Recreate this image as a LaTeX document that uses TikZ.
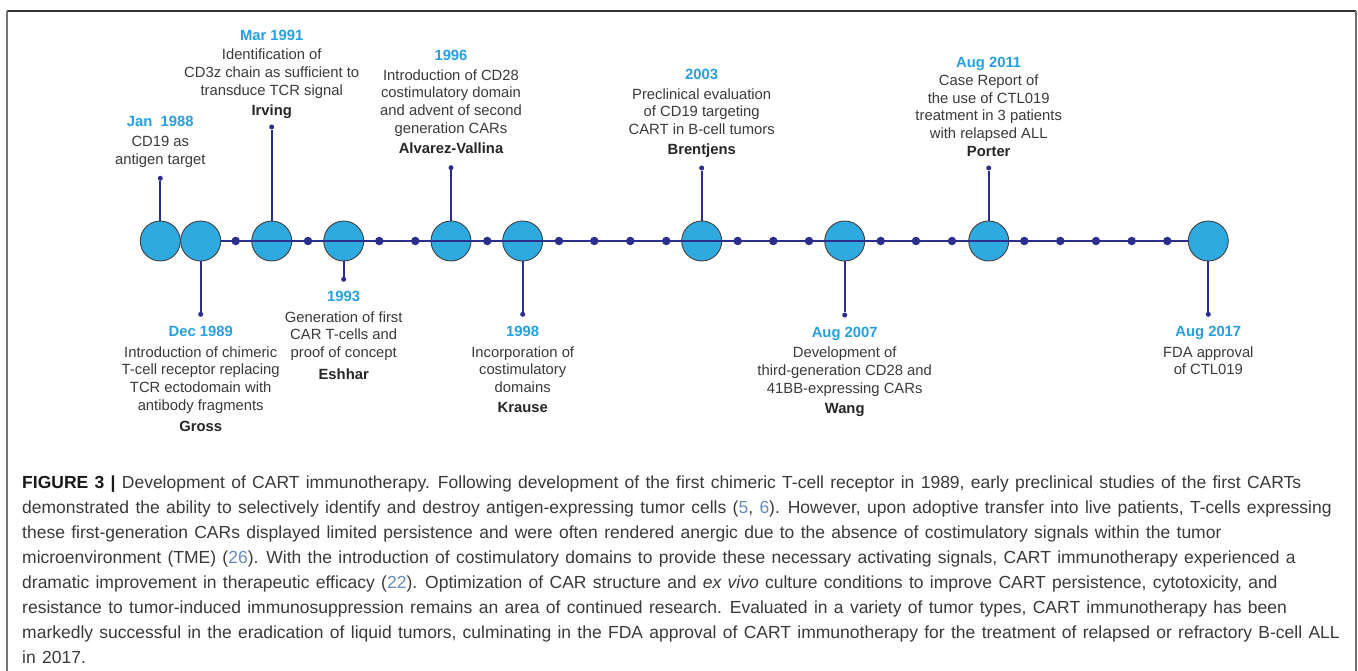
\documentclass[tikz,border=0pt]{standalone}
\usepackage{fontspec}
\setmainfont{Liberation Sans}
\newfontfamily\capfont[WordSpace=1.3]{Liberation Sans}
\usepackage{xcolor}
\usepackage{tikz}
\usetikzlibrary{positioning}

\definecolor{linenavy}{RGB}{44,46,142}
\definecolor{dateblue}{RGB}{38,160,222}
\definecolor{ballblue}{RGB}{47,170,224}
\definecolor{txtgray}{RGB}{58,58,58}
\definecolor{refblue}{RGB}{100,140,190}

\newcommand{\yr}{\bfseries\color{dateblue}}
\newcommand{\who}{\bfseries\color{black!85}}
\newcommand{\rf}[1]{{\color{refblue}#1}}

\begin{document}
\begin{tikzpicture}[x=1pt, y=-1pt,
    ball/.style={circle, draw=black!75, line width=0.9pt, fill=ballblue, minimum size=40pt, inner sep=0pt},
    tick/.style={circle, fill=linenavy, minimum size=8.5pt, inner sep=0pt},
    tip/.style={circle, fill=linenavy, minimum size=5pt, inner sep=0pt},
    stem/.style={linenavy, line width=2pt},
    event/.style={align=center, inner sep=0pt, text=txtgray, font=\fontsize{14.8}{17.7}\selectfont},
    capline/.style={anchor=base west, inner sep=0pt, text=txtgray, font=\capfont\fontsize{17.5}{25}\selectfont}]
    \useasboundingbox (0,0) rectangle (1358,671);
    \fill[white] (0,0) rectangle (1358,671);
    % frame
    \draw[black!80, line width=1.2pt] (7,11) -- (1356,11);
    \draw[black!55, line width=1.5pt] (7,11) -- (7,671);
    \draw[black!55, line width=1.5pt] (1356,11) -- (1356,671);
    % milestones
    \node[ball] (b1) at (160.3,241) {};
    \node[ball] (b2) at (200.7,241) {};
    \node[ball] (b3) at (271.7,241) {};
    \node[ball] (b4) at (343.7,241) {};
    \node[ball] (b5) at (451,241) {};
    \node[ball] (b6) at (522.7,241) {};
    \node[ball] (b7) at (701.7,241) {};
    \node[ball] (b8) at (844.7,241) {};
    \node[ball] (b9) at (988.7,241) {};
    \node[ball] (b10) at (1208.3,241) {};
    \draw[linenavy, line width=2.8pt] (b2) -- (b10);
    % small ticks on the axis
    \node[tick] (k1) at (235.7,241) {};
    \node[tick] (k2) at (308,241) {};
    \node[tick] (k3) at (379.3,241) {};
    \node[tick] (k4) at (415.3,241) {};
    \node[tick] (k5) at (487.3,241) {};
    \node[tick] (k6) at (559,241) {};
    \node[tick] (k7) at (594.3,241) {};
    \node[tick] (k8) at (630.3,241) {};
    \node[tick] (k9) at (666.3,241) {};
    \node[tick] (k10) at (737.7,241) {};
    \node[tick] (k11) at (773.3,241) {};
    \node[tick] (k12) at (809,241) {};
    \node[tick] (k13) at (880.7,241) {};
    \node[tick] (k14) at (916,241) {};
    \node[tick] (k15) at (952,241) {};
    \node[tick] (k16) at (1024.3,241) {};
    \node[tick] (k17) at (1060.3,241) {};
    \node[tick] (k18) at (1096,241) {};
    \node[tick] (k19) at (1131.7,241) {};
    \node[tick] (k20) at (1167.3,241) {};
    % stems
    \node[tip] (t1) at (160.3,178.3) {};
    \node[tip] (t2) at (200.7,314.3) {};
    \node[tip] (t3) at (271.7,127) {};
    \node[tip] (t4) at (343.7,279.3) {};
    \node[tip] (t5) at (451,167.7) {};
    \node[tip] (t6) at (522.7,314.3) {};
    \node[tip] (t7) at (701.7,168) {};
    \node[tip] (t8) at (844.7,315) {};
    \node[tip] (t9) at (988.7,168) {};
    \node[tip] (t10) at (1208.3,314.3) {};
    \draw[stem] (b1) -- (t1);
    \draw[stem] (b2) -- (t2);
    \draw[stem] (b3) -- (t3);
    \draw[stem] (b4) -- (t4);
    \draw[stem] (b5) -- (t5);
    \draw[stem] (b6) -- (t6);
    \draw[stem] (b7) -- (t7);
    \draw[stem] (b8) -- (t8);
    \draw[stem] (b9) -- (t9);
    \draw[stem] (b10) -- (t10);
    % events above the axis
    \node[event, above=5.5pt of t1] (e1) {\strut{\yr Jan\ \ 1988}\\[3pt] CD19 as\\ antigen target\strut};
    \node[event, above=3.5pt of t3] (e3) {\strut{\yr Mar 1991}\\[1.5pt] Identification of\\ CD3z chain as sufficient to\\ transduce TCR signal\\[2.3pt] {\who Irving}\strut};
    \node[event, above=5.5pt of t5] (e5) {\strut{\yr 1996}\\[2pt] Introduction of CD28\\ costimulatory domain\\ and advent of second\\ generation CARs\\[3pt] {\who Alvarez-Vallina}\strut};
    \node[event, above=5.5pt of t7] (e7) {\strut{\yr 2003}\\[1.5pt] Preclinical evaluation\\ of CD19 targeting\\ CART in B-cell tumors\\[2pt] {\who Brentjens}\strut};
    \node[event, above=3.5pt of t9] (e9) {\strut{\yr Aug 2011}\\[0.5pt] Case Report of\\ the use of CTL019\\ treatment in 3 patients\\ with relapsed ALL\\ {\who Porter}\strut};
    % events below the axis
    \node[event, below=6.8pt of t2] (e2) {\strut{\yr Dec 1989}\\[3pt] Introduction of chimeric\\ T-cell receptor replacing\\ TCR ectodomain with\\ antibody fragments\\[3.5pt] {\who Gross}\strut};
    \node[event, below=6.8pt of t4] (e4) {\strut{\yr 1993}\\[3pt] Generation of first\\ CAR T-cells and\\ proof of concept\\[4.5pt] {\who Eshhar}\strut};
    \node[event, below=6.8pt of t6] (e6) {\strut{\yr 1998}\\[3pt] Incorporation of\\ costimulatory\\ domains\\[2.5pt] {\who Krause}\strut};
    \node[event, below=6.8pt of t8] (e8) {\strut{\yr Aug 2007}\\[3pt] Development of\\ third-generation CD28 and\\ 41BB-expressing CARs\\[2.5pt] {\who Wang}\strut};
    \node[event, below=6.8pt of t10] (e10) {\strut{\yr Aug 2017}\\[3pt] FDA approval\\ of CTL019\strut};
    % caption
    \node[capline] (c1) at (22,488) {{\bfseries\color{black!90}FIGURE 3 |} Development of CART immunotherapy. Following development of the first chimeric T-cell receptor in 1989, early preclinical studies of the first CARTs};
    \node[capline] (c2) at (22,513) {demonstrated the ability to selectively identify and destroy antigen-expressing tumor cells (\rf{5}, \rf{6}). However, upon adoptive transfer into live patients, T-cells expressing};
    \node[capline] (c3) at (22,538) {these first-generation CARs displayed limited persistence and were often rendered anergic due to the absence of costimulatory signals within the tumor};
    \node[capline] (c4) at (22,563) {microenvironment (TME) (\rf{26}). With the introduction of costimulatory domains to provide these necessary activating signals, CART immunotherapy experienced a};
    \node[capline] (c5) at (22,588) {dramatic improvement in therapeutic efficacy (\rf{22}). Optimization of CAR structure and \textit{ex vivo} culture conditions to improve CART persistence, cytotoxicity, and};
    \node[capline] (c6) at (22,613) {resistance to tumor-induced immunosuppression remains an area of continued research. Evaluated in a variety of tumor types, CART immunotherapy has been};
    \node[capline] (c7) at (22,638) {markedly successful in the eradication of liquid tumors, culminating in the FDA approval of CART immunotherapy for the treatment of relapsed or refractory B-cell ALL};
    \node[capline] (c8) at (22,663) {in 2017.};
\end{tikzpicture}
\end{document}
